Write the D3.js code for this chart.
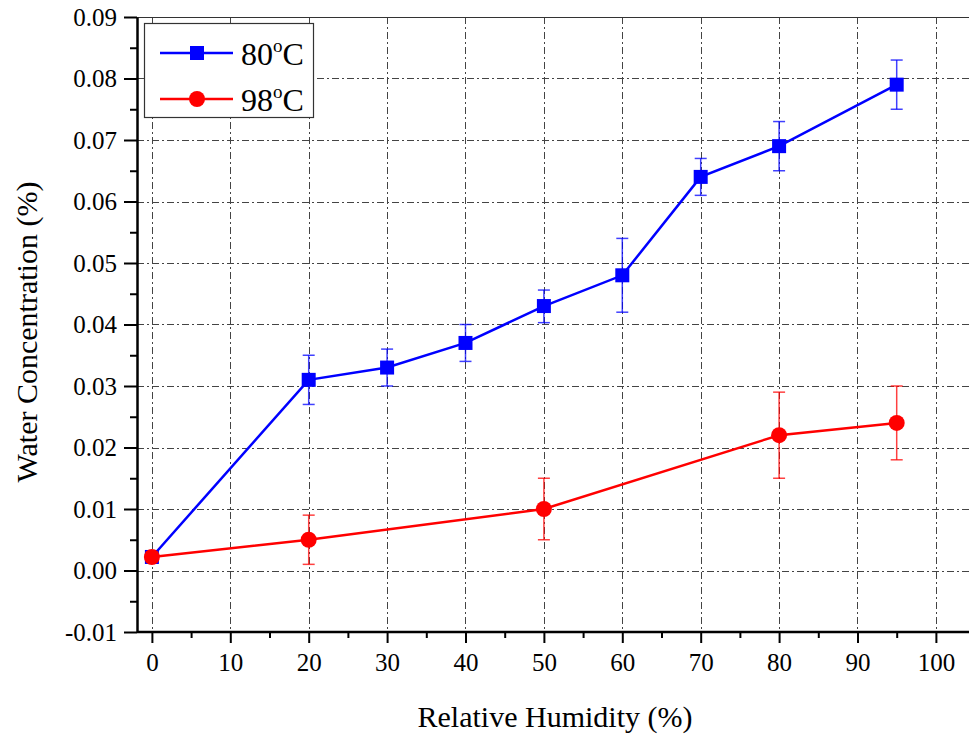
<!DOCTYPE html>
<html>
<head>
<meta charset="utf-8">
<script src="https://cdn.jsdelivr.net/npm/d3@7"></script>
<style>
  body { margin: 0; }
  svg text { font-family: 'Liberation Serif', 'Times New Roman', Tinos, serif !important; }
</style>
</head>
<body>
<script>
// Relative humidity (%) for each series.
var humidity80 = [0, 20, 30, 40, 50, 60, 70, 80, 95];
var humidity98 = [0, 20, 50, 80, 95];

// Water concentration (%) and error bar ends.
var water80 = [0.0022, 0.031, 0.033, 0.037, 0.043, 0.048, 0.064, 0.069, 0.079];
var low80 = [null, 0.027, 0.030, 0.034, 0.0403, 0.042, 0.061, 0.065, 0.075];
var high80 = [null, 0.035, 0.036, 0.040, 0.0456, 0.054, 0.067, 0.073, 0.083];

var water98 = [0.0022, 0.005, 0.010, 0.022, 0.024];
var low98 = [null, 0.001, 0.005, 0.015, 0.018];
var high98 = [null, 0.009, 0.015, 0.029, 0.030];

var xTicks = [0, 10, 20, 30, 40, 50, 60, 70, 80, 90, 100];
var xMinor = [5, 15, 25, 35, 45, 55, 65, 75, 85, 95];
var yTicks = [-0.01, 0, 0.01, 0.02, 0.03, 0.04, 0.05, 0.06, 0.07, 0.08, 0.09];
var yMinor = [-0.005, 0.005, 0.015, 0.025, 0.035, 0.045, 0.055, 0.065, 0.075, 0.085];

var width = 969, height = 735;
var box = { left: 137, top: 17, right: 969, bottom: 632 };
var serif = "'Liberation Serif', 'Times New Roman', Tinos, serif";

var svg = d3.select("body").append("svg")
  .attr("width", width)
  .attr("height", height)
  .attr("font-family", serif);

var x = d3.scaleLinear().domain([-1.9, 105]).range([box.left, box.left + 106.9 * 7.84]);
var y = d3.scaleLinear().domain([-0.01, 0.09]).range([box.bottom, box.top]);

// Dash-dot grid lines.
var grid = svg.append("g").attr("class", "grid")
  .attr("stroke", "#444")
  .attr("stroke-width", 1)
  .attr("stroke-dasharray", "7,3,2,3");

grid.selectAll("line.v").data(xTicks).enter().append("line")
  .attr("x1", function (d) { return Math.round(x(d)) + 0.5; })
  .attr("x2", function (d) { return Math.round(x(d)) + 0.5; })
  .attr("y1", box.top)
  .attr("y2", box.bottom);

grid.selectAll("line.h").data(yTicks.slice(1, -1)).enter().append("line")
  .attr("x1", box.left)
  .attr("x2", box.right)
  .attr("y1", function (d) { return Math.round(y(d)) + 0.5; })
  .attr("y2", function (d) { return Math.round(y(d)) + 0.5; });

// Thin top border.
svg.append("line")
  .attr("x1", box.left).attr("x2", box.right)
  .attr("y1", box.top + 0.5).attr("y2", box.top + 0.5)
  .attr("stroke", "#333").attr("stroke-width", 1.2);

// Axes: majors with labels, minors without.
function styleAxis(g) {
  g.attr("font-family", serif);
  g.select(".domain").attr("stroke", "#000").attr("stroke-width", 2.5);
  g.selectAll(".tick line").attr("stroke", "#000").attr("stroke-width", 2);
  g.selectAll(".tick text").attr("fill", "#000").attr("font-size", 25);
}

var xAxis = svg.append("g")
  .attr("transform", "translate(0," + box.bottom + ")")
  .call(d3.axisBottom(x).tickValues(xTicks).tickSize(11).tickPadding(10).tickSizeOuter(0));
styleAxis(xAxis);
xAxis.select(".domain").attr("d", "M" + box.left + ",0H" + box.right);

var xAxisMinor = svg.append("g")
  .attr("transform", "translate(0," + box.bottom + ")")
  .call(d3.axisBottom(x).tickValues(xMinor).tickSize(6).tickFormat("").tickSizeOuter(0));
styleAxis(xAxisMinor);
xAxisMinor.select(".domain").remove();

var yAxis = svg.append("g")
  .attr("transform", "translate(" + box.left + ",0)")
  .call(d3.axisLeft(y).tickValues(yTicks).tickSize(13).tickPadding(7)
    .tickFormat(function (d) { return d3.format(".2f")(d).replace("−", "-"); })
    .tickSizeOuter(0));
styleAxis(yAxis);

var yAxisMinor = svg.append("g")
  .attr("transform", "translate(" + box.left + ",0)")
  .call(d3.axisLeft(y).tickValues(yMinor).tickSize(7).tickFormat("").tickSizeOuter(0));
styleAxis(yAxisMinor);
yAxisMinor.select(".domain").remove();

// Axis titles.
svg.append("text")
  .attr("x", 555)
  .attr("y", 727)
  .attr("text-anchor", "middle")
  .attr("font-size", 30)
  .text("Relative Humidity (%)");

svg.append("text")
  .attr("transform", "translate(37,332) rotate(-90)")
  .attr("text-anchor", "middle")
  .attr("font-size", 30)
  .text("Water Concentration (%)");

// Build one series: line, error bars, markers.
function drawSeries(xs, ys, lows, highs, color, shape) {
  var pts = xs.map(function (d, i) {
    return { x: d, y: ys[i], lo: lows[i], hi: highs[i] };
  });
  var g = svg.append("g");

  g.append("path")
    .datum(pts)
    .attr("fill", "none")
    .attr("stroke", color)
    .attr("stroke-width", 2.5)
    .attr("d", d3.line().x(function (d) { return x(d.x); }).y(function (d) { return y(d.y); }));

  var bars = g.selectAll("g.err").data(pts.filter(function (d) { return d.lo != null; }))
    .enter().append("g")
    .attr("stroke", color)
    .attr("stroke-opacity", 0.75)
    .attr("stroke-width", 1.5);
  bars.append("line")
    .attr("x1", function (d) { return x(d.x); }).attr("x2", function (d) { return x(d.x); })
    .attr("y1", function (d) { return y(d.lo); }).attr("y2", function (d) { return y(d.hi); });
  bars.append("line")
    .attr("x1", function (d) { return x(d.x) - 6; }).attr("x2", function (d) { return x(d.x) + 6; })
    .attr("y1", function (d) { return y(d.hi); }).attr("y2", function (d) { return y(d.hi); });
  bars.append("line")
    .attr("x1", function (d) { return x(d.x) - 6; }).attr("x2", function (d) { return x(d.x) + 6; })
    .attr("y1", function (d) { return y(d.lo); }).attr("y2", function (d) { return y(d.lo); });

  if (shape === "square") {
    g.selectAll("rect").data(pts).enter().append("rect")
      .attr("x", function (d) { return x(d.x) - 7; })
      .attr("y", function (d) { return y(d.y) - 7; })
      .attr("width", 14).attr("height", 14)
      .attr("fill", color);
  } else {
    g.selectAll("circle").data(pts).enter().append("circle")
      .attr("cx", function (d) { return x(d.x); })
      .attr("cy", function (d) { return y(d.y); })
      .attr("r", 8)
      .attr("fill", color);
  }
}

drawSeries(humidity80, water80, low80, high80, "#0000ff", "square");
drawSeries(humidity98, water98, low98, high98, "#ff0000", "circle");

// Legend.
var legend = svg.append("g");
legend.append("rect")
  .attr("x", 144.5).attr("y", 23.5)
  .attr("width", 169).attr("height", 94)
  .attr("fill", "#fff")
  .attr("stroke", "#333")
  .attr("stroke-width", 1.2);

var legendItems = [
  { label: "80", color: "#0000ff", shape: "square", y: 53 },
  { label: "98", color: "#ff0000", shape: "circle", y: 99 }
];

legendItems.forEach(function (item) {
  legend.append("line")
    .attr("x1", 160).attr("x2", 233)
    .attr("y1", item.y).attr("y2", item.y)
    .attr("stroke", item.color).attr("stroke-width", 2.5);
  if (item.shape === "square") {
    legend.append("rect")
      .attr("x", 190).attr("y", item.y - 7)
      .attr("width", 14).attr("height", 14)
      .attr("fill", item.color);
  } else {
    legend.append("circle")
      .attr("cx", 197).attr("cy", item.y).attr("r", 8)
      .attr("fill", item.color);
  }
  var t = legend.append("text")
    .attr("x", 241)
    .attr("y", item.y + 12)
    .attr("font-size", 32);
  t.append("tspan").text(item.label);
  t.append("tspan").attr("dy", -13).attr("font-size", 19).text("o");
  t.append("tspan").attr("dy", 13).text("C");
});
</script>
</body>
</html>
